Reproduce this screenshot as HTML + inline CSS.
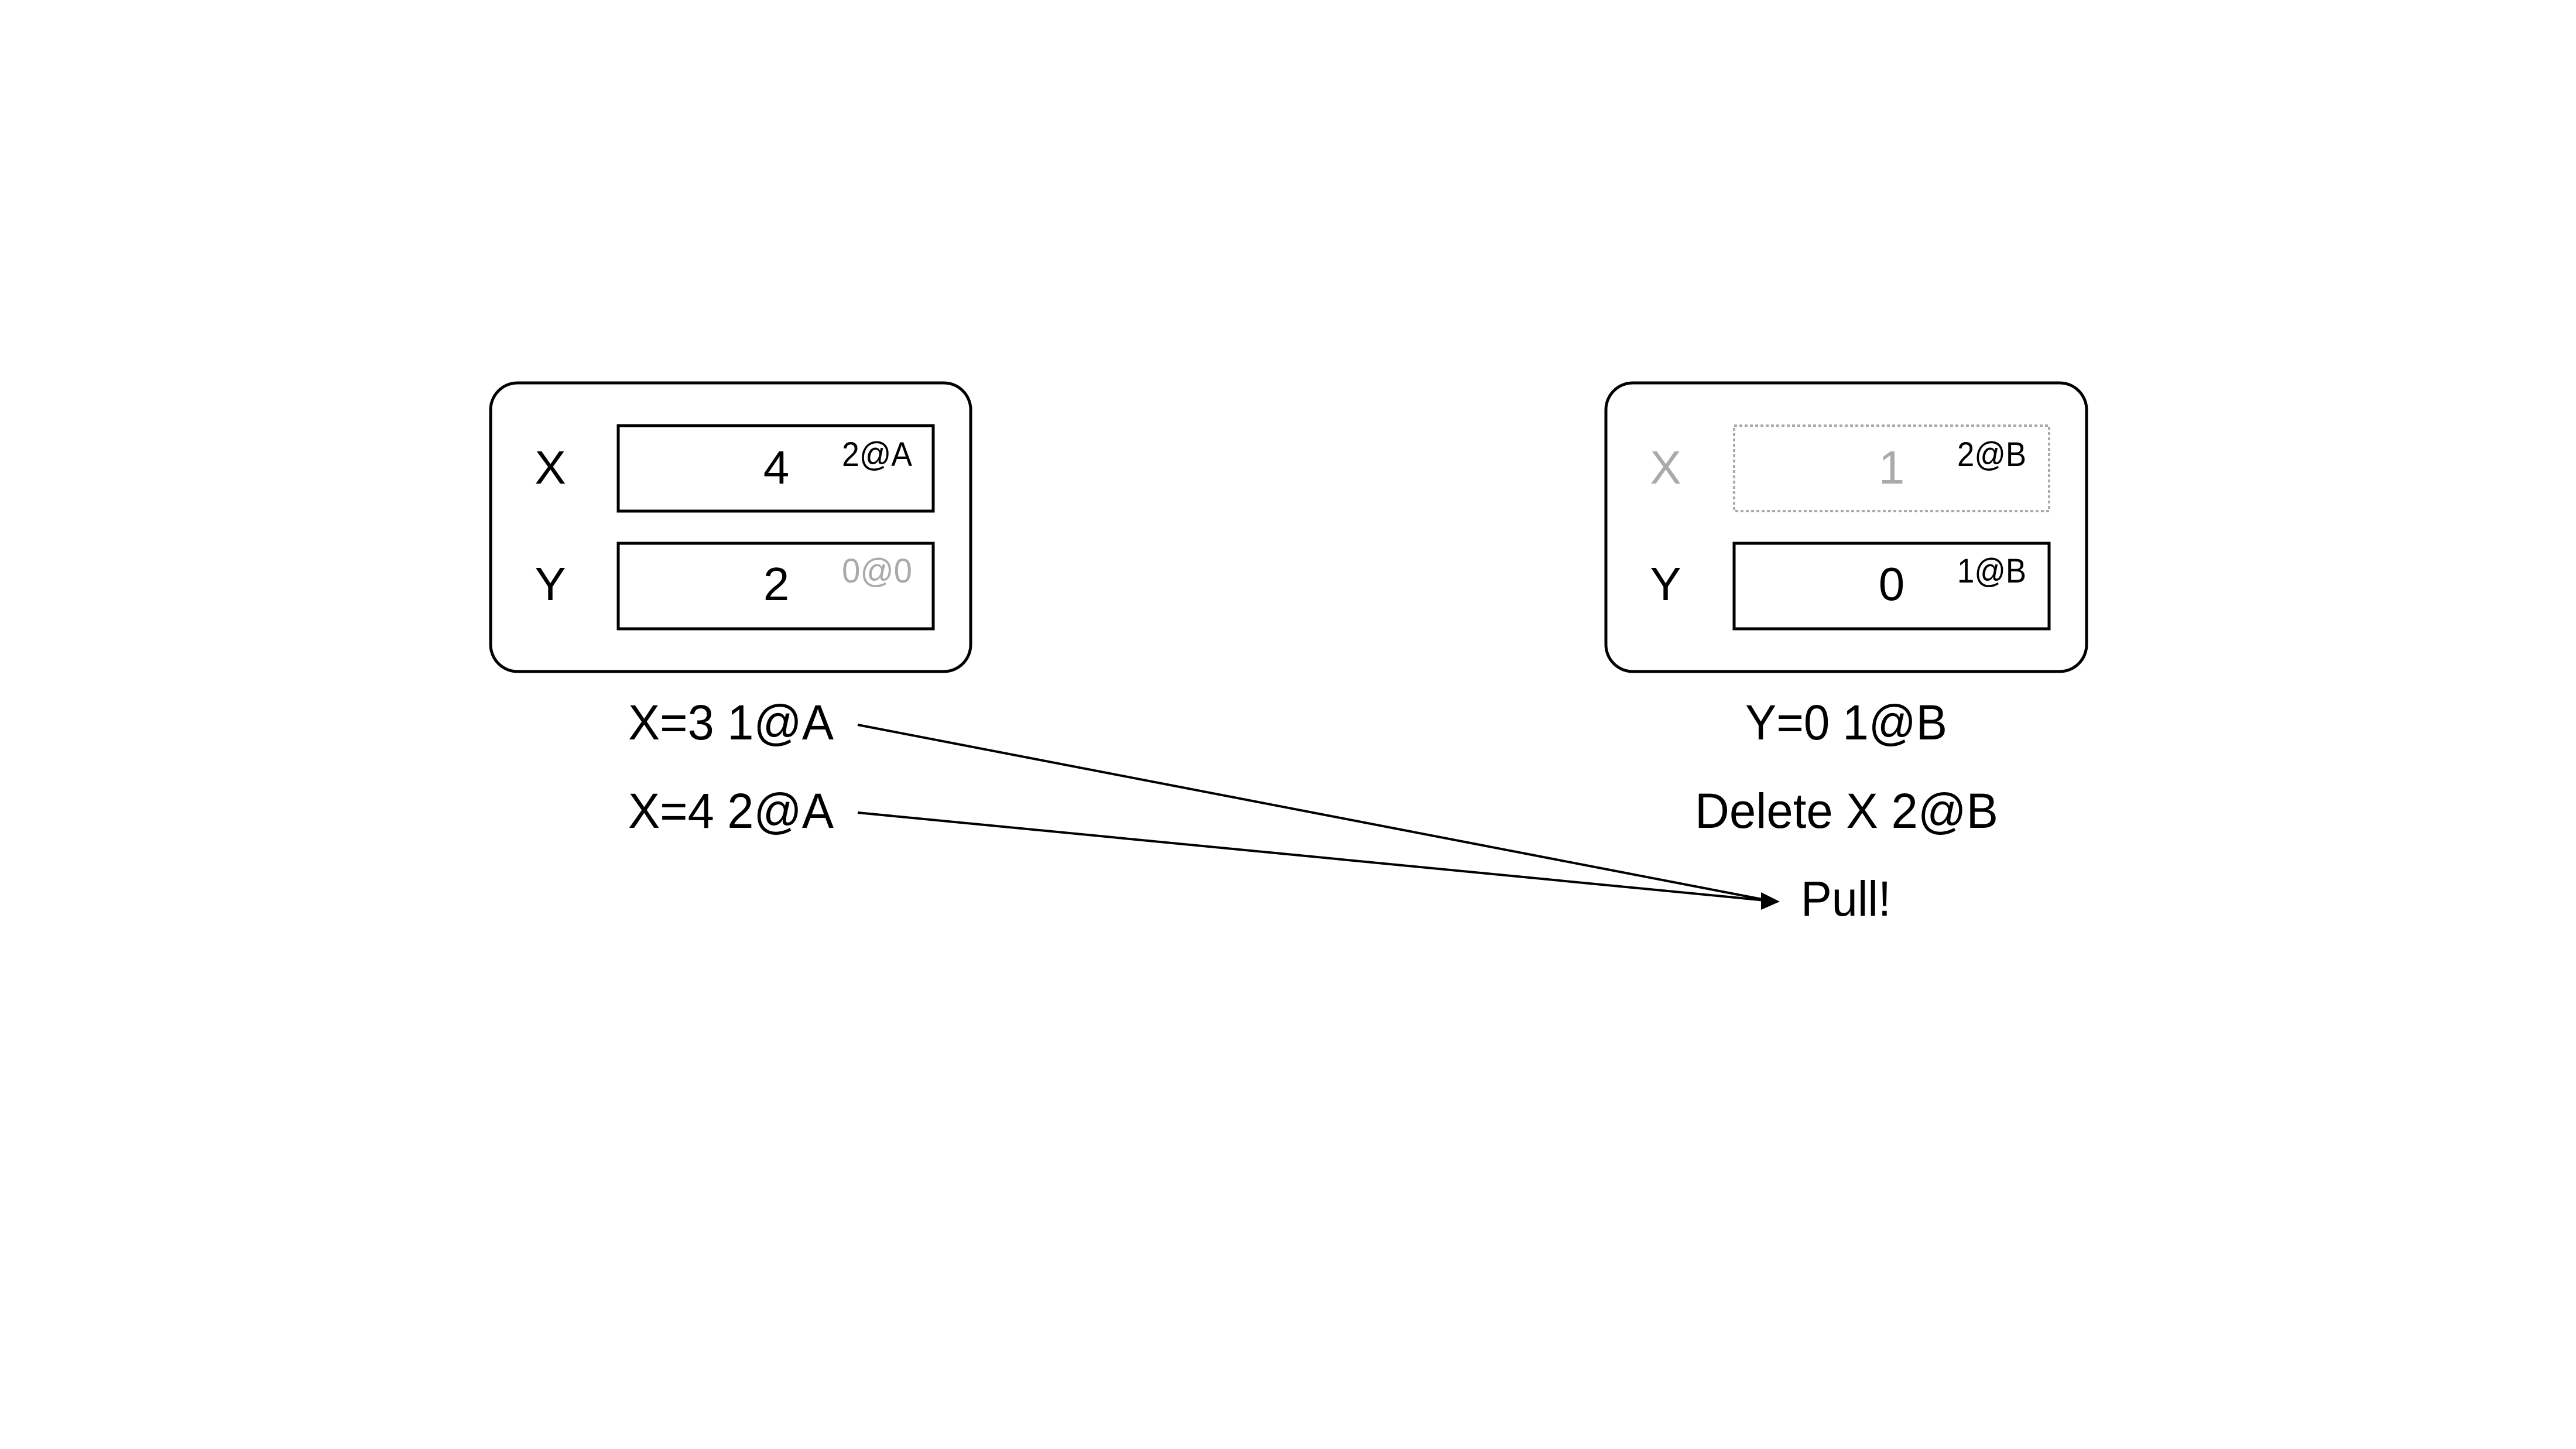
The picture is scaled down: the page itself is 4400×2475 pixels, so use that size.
<!DOCTYPE html>
<html><head><meta charset="utf-8"><style>html,body{margin:0;padding:0;background:#fff}svg{display:block}</style></head>
<body>
<svg width="4400" height="2475" viewBox="0 0 4400 2475" xmlns="http://www.w3.org/2000/svg" font-family="'Liberation Sans', sans-serif">
<g fill="none" stroke="#000" stroke-width="5">
<rect x="838" y="654" width="820" height="493" rx="46"/>
<rect x="1056" y="727" width="538" height="146"/>
<rect x="1056" y="928" width="538" height="146"/>
<rect x="2743" y="654" width="821" height="493" rx="46"/>
<rect x="2962" y="928" width="538" height="146"/>
</g>
<rect x="2962" y="727" width="538" height="146" fill="none" stroke="#aaa" stroke-width="4" stroke-dasharray="5,4"/>
<g font-size="80" fill="#000">
<text x="940" y="826" text-anchor="middle">X</text>
<text x="940" y="1025" text-anchor="middle">Y</text>
<text x="1326" y="826" text-anchor="middle">4</text>
<text x="1326" y="1025" text-anchor="middle">2</text>
<text x="2845" y="826" text-anchor="middle" fill="#aaa">X</text>
<text x="2845" y="1025" text-anchor="middle">Y</text>
<text x="3231" y="826" text-anchor="middle" fill="#aaa">1</text>
<text x="3231" y="1025" text-anchor="middle">0</text>
</g>
<g font-size="84" fill="#000">
<text x="1073" y="1263" textLength="351" lengthAdjust="spacingAndGlyphs">X=3 1@A</text>
<text x="1073" y="1414" textLength="351" lengthAdjust="spacingAndGlyphs">X=4 2@A</text>
<text x="2981" y="1263" textLength="345" lengthAdjust="spacingAndGlyphs">Y=0 1@B</text>
<text x="2895" y="1414" textLength="518" lengthAdjust="spacingAndGlyphs">Delete X 2@B</text>
<text x="3076" y="1564" textLength="154" lengthAdjust="spacingAndGlyphs">Pull!</text>
</g>
<g font-size="58">
<text x="1438" y="796" textLength="120" lengthAdjust="spacingAndGlyphs">2@A</text>
<text x="1438" y="995" textLength="120" lengthAdjust="spacingAndGlyphs" fill="#aaa">0@0</text>
<text x="3343" y="796" textLength="118" lengthAdjust="spacingAndGlyphs">2@B</text>
<text x="3343" y="995" textLength="118" lengthAdjust="spacingAndGlyphs">1@B</text>
</g>
<g stroke="#000" stroke-width="4">
<line x1="1465" y1="1238" x2="3015" y2="1537"/>
<line x1="1465" y1="1388" x2="3015" y2="1538"/>
</g>
<path d="M3008,1524 L3040,1540 L3008,1554 z" fill="#000"/>
</svg>
</body></html>
